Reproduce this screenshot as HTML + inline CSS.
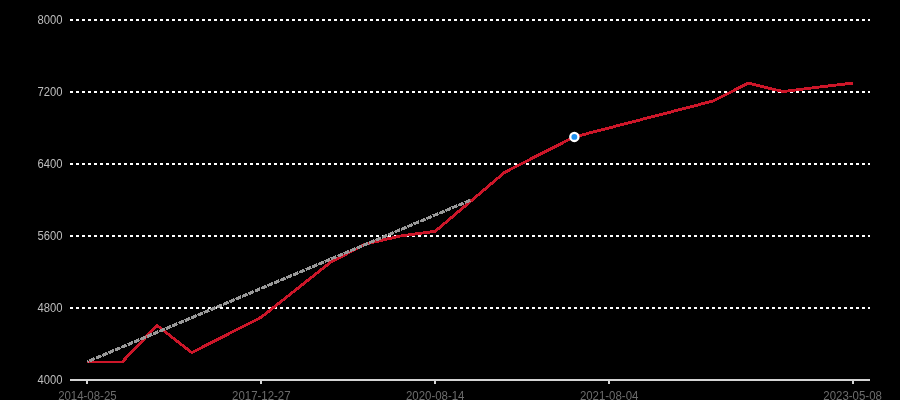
<!DOCTYPE html>
<html><head><meta charset="utf-8"><style>
html,body{margin:0;padding:0;background:#000;width:900px;height:400px;overflow:hidden}
svg{display:block;will-change:transform}
.g{stroke:#fff;stroke-width:2;stroke-dasharray:3 3}
.t{stroke:#d4d4d4;stroke-width:2}
text{font-family:"Liberation Sans",sans-serif;font-size:12px}
.yl{fill:#bdbdbd;text-anchor:end}
.xl{fill:#6c6c6c;text-anchor:middle}
</style></head><body>
<svg width="900" height="400" viewBox="0 0 900 400">
<line x1="70" y1="20" x2="870" y2="20" class="g"/><line x1="70" y1="92" x2="870" y2="92" class="g"/><line x1="70" y1="164" x2="870" y2="164" class="g"/><line x1="70" y1="236" x2="870" y2="236" class="g"/><line x1="70" y1="308" x2="870" y2="308" class="g"/>
<line x1="70" y1="380" x2="870" y2="380" stroke="#d4d4d4" stroke-width="2"/>
<line x1="87" y1="381" x2="87" y2="384" class="t"/><line x1="261" y1="381" x2="261" y2="384" class="t"/><line x1="435" y1="381" x2="435" y2="384" class="t"/><line x1="609" y1="381" x2="609" y2="384" class="t"/><line x1="853" y1="381" x2="853" y2="384" class="t"/>
<text x="62.5" y="383.8" class="yl" textLength="25" lengthAdjust="spacingAndGlyphs">4000</text><text x="62.5" y="311.8" class="yl" textLength="25" lengthAdjust="spacingAndGlyphs">4800</text><text x="62.5" y="239.8" class="yl" textLength="25" lengthAdjust="spacingAndGlyphs">5600</text><text x="62.5" y="167.8" class="yl" textLength="25" lengthAdjust="spacingAndGlyphs">6400</text><text x="62.5" y="95.8" class="yl" textLength="25" lengthAdjust="spacingAndGlyphs">7200</text><text x="62.5" y="23.8" class="yl" textLength="25" lengthAdjust="spacingAndGlyphs">8000</text>
<text x="87.39" y="400" class="xl" textLength="58.5" lengthAdjust="spacingAndGlyphs">2014-08-25</text><text x="261.30" y="400" class="xl" textLength="58.5" lengthAdjust="spacingAndGlyphs">2017-12-27</text><text x="435.22" y="400" class="xl" textLength="58.5" lengthAdjust="spacingAndGlyphs">2020-08-14</text><text x="609.13" y="400" class="xl" textLength="58.5" lengthAdjust="spacingAndGlyphs">2021-08-04</text><text x="852.61" y="400" class="xl" textLength="58.5" lengthAdjust="spacingAndGlyphs">2023-05-08</text>
<polyline points="87.39,362.00 122.17,362.00 156.96,325.40 191.74,352.60 226.52,334.90 261.30,317.20 296.09,289.60 330.87,262.00 365.65,244.00 400.43,236.00 435.22,231.30 470.00,201.80 504.78,172.30 539.57,154.50 574.35,136.90 609.13,127.90 643.91,118.90 678.70,109.90 713.48,100.90 748.26,83.10 783.04,91.60 817.83,87.20 852.61,83.10" fill="none" stroke="#cc1629" stroke-width="2.9" stroke-linejoin="round" shape-rendering="crispEdges"/>

<line x1="470.00" y1="200.3" x2="87.39" y2="361.7" stroke="#999" stroke-width="3" stroke-dasharray="5.9 1.0" shape-rendering="crispEdges"/>
<circle cx="574.35" cy="136.90" r="4.1" fill="#1e90f0" stroke="#fff" stroke-width="2.3"/>
</svg>
</body></html>
